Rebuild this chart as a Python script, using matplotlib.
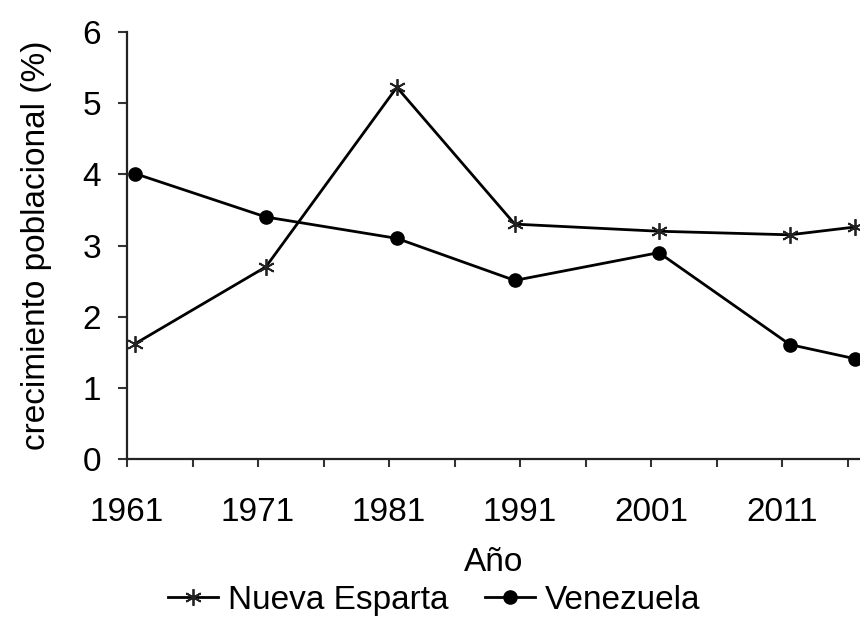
import matplotlib
matplotlib.use("Agg")
import matplotlib.pyplot as plt
import numpy as np

plt.rcParams['font.family'] = ['Liberation Sans', 'DejaVu Sans']

years = [1961, 1971, 1981, 1990, 2001, 2011, 2016]
nueva_esparta = [1.62, 2.70, 5.22, 3.30, 3.20, 3.15, 3.26]
venezuela = [4.01, 3.40, 3.10, 2.51, 2.90, 1.61, 1.41]
tick_labels = ['1961', '1971', '1981', '1991', '2001', '2011']
y_ticks = [0, 1, 2, 3, 4, 5, 6]

x0 = 1960.4
fig = plt.figure(figsize=(8.6, 6.2), dpi=100)
ax = fig.add_axes([127/860, 1 - 459.3/620, 733/860, (459.3 - 31.7)/620])

ax.plot(years, nueva_esparta, color='black', lw=2.0, marker=(6, 2, 0),
        markersize=12, markeredgewidth=1.3, markeredgecolor='#222222',
        label='Nueva Esparta', clip_on=False, zorder=3)
ax.plot(years, venezuela, color='black', lw=2.0, marker='o',
        markersize=9.5, label='Venezuela', clip_on=False, zorder=3)

ax.set_xlim(x0, x0 + 733/13.1)
ax.set_ylim(0, 6)
major = [x0 + 10*i for i in range(len(tick_labels))]
minor = [x0 + 5 + 10*i for i in range(len(tick_labels))]
ax.set_xticks(major)
ax.set_xticklabels(tick_labels)
ax.set_xticks(minor, minor=True)
ax.set_yticks(y_ticks)

for s in ['top', 'right']:
    ax.spines[s].set_visible(False)
for s in ['left', 'bottom']:
    ax.spines[s].set_linewidth(1.6)
    ax.spines[s].set_color('#222222')

ax.tick_params(axis='x', which='both', length=6, width=1.5, color='#333333',
               labelsize=24, pad=21)
ax.tick_params(axis='y', which='major', length=6.5, width=1.5, color='#333333',
               labelsize=24, pad=12)

ax.set_ylabel('crecimiento poblacional (%)', fontsize=24, labelpad=22)
ax.set_xlabel('Año', fontsize=24, labelpad=14)

fig.legend(loc='lower center', bbox_to_anchor=(0.505, -0.026), ncol=2,
           frameon=False, fontsize=24, handlelength=1.5, handletextpad=0.3,
           columnspacing=1.1, borderaxespad=0.2)

fig.savefig('out.png', dpi=100)
